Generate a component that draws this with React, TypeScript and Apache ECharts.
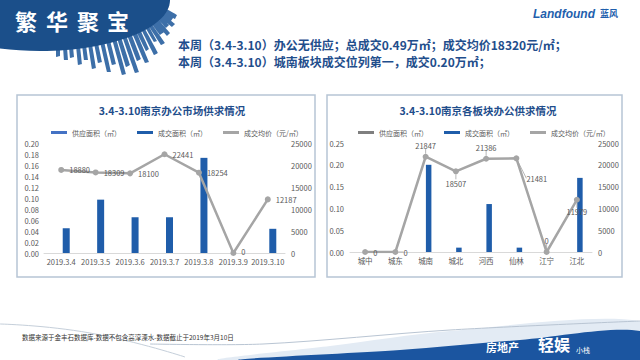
import React, { useEffect, useRef } from "react";
import * as echarts from "echarts";

// ---------- data ----------
const DATES = ["2019.3.4", "2019.3.5", "2019.3.6", "2019.3.7", "2019.3.8", "2019.3.9", "2019.3.10"];
const SUPPLY_L = [0, 0, 0, 0, 0, 0, 0];
const DEAL_L = [0.045, 0.097, 0.065, 0.065, 0.173, 0, 0.044];
const PRICE_L = [18880, 18309, 18100, 22441, 18254, 0, 12187];

const AREAS = ["城中", "城东", "城南", "城北", "河西", "仙林", "江宁", "江北"];
const SUPPLY_R = [0, 0, 0, 0, 0, 0, 0, 0];
const DEAL_R = [0, 0, 0.2, 0.01, 0.11, 0.01, 0, 0.17];
const PRICE_R = [0, 0, 21847, 18507, 21386, 21481, 0, 11979];

const TITLE_L = "3.4-3.10南京办公市场供求情况";
const TITLE_R = "3.4-3.10南京各板块办公供求情况";
const NAME_SUPPLY = "供应面积（㎡）";
const NAME_DEAL = "成交面积（㎡）";
const NAME_PRICE = "成交均价（元/㎡）";
const HEAD_1 = "本周（3.4-3.10）办公无供应；总成交0.49万㎡；成交均价18320元/㎡；";
const HEAD_2 = "本周（3.4-3.10）城南板块成交位列第一，成交0.20万㎡；";
const FOOT = "数据来源于金丰石数据库-数据不包含高淳溧水-数据截止于2019年3月10日";

// ---------- styles ----------
const BLUE = "#1F5DAA";
const GRAY = "#A5A5A5";
const TXT = "#595959";
const NAVY = "#1F4E8C";
const FONT = "'Noto Sans CJK SC', 'Noto Sans', sans-serif";

const LABEL_POS_L: any[] = [
  { position: "right" },
  { position: "right" },
  { position: "right" },
  { position: "right" },
  { position: "right" },
  { position: "right", offset: [0, -2] },
  { position: "right" },
];

const LABEL_POS_R: any[] = [
  { position: "right" },
  { position: "right" },
  { position: "top", offset: [7, 0] },
  { position: "bottom", offset: [7, 0] },
  { position: "top", offset: [4, 0] },
  { position: "right" },
  { position: "top" },
  { position: "bottom", offset: [-10, 0] },
];

// decorative skyline rays around the header blob (decoration, not data)
const RAYS = [
  [58.0, 47.5, 58.4, 56.5], [64.6, 47.1, 65.6, 60.1], [71.2, 46.5, 72.3, 57.5],
  [77.6, 45.8, 79.9, 64.7], [84.1, 44.9, 86.2, 59.8], [90.3, 44.0, 94.4, 68.7],
  [96.4, 42.9, 100.2, 62.5], [102.4, 41.7, 109.0, 72.0], [108.2, 40.4, 114.1, 64.7],
  [113.8, 38.9, 123.6, 74.6], [119.2, 37.3, 128.0, 66.0], [124.3, 35.7, 136.9, 72.6],
  [129.2, 33.9, 139.2, 60.1], [133.9, 32.0, 146.7, 62.5], [138.3, 30.1, 147.6, 50.0],
  [142.5, 28.0, 155.9, 53.8], [146.3, 25.9, 155.3, 41.5], [149.8, 23.8, 162.9, 43.9],
  [153.0, 21.5, 161.9, 33.6], [155.9, 19.3, 168.7, 34.6], [158.4, 17.0, 167.5, 26.3],
  [160.7, 14.6, 173.5, 25.8], [162.5, 12.3, 172.2, 19.4], [164.0, 10.0, 176.1, 17.1],
];

function skylineOutline(): number[][] {
  const pts: number[][] = [];
  for (let i = 0; i < RAYS.length; i++) {
    const r = RAYS[i];
    const dx = r[2] - r[0];
    const dy = r[3] - r[1];
    const len = Math.sqrt(dx * dx + dy * dy);
    const nx = dx / len;
    const ny = dy / len;
    const tx = ny * 2;
    const ty = -nx * 2;
    pts.push([Math.round(r[0] - tx), Math.round(r[1] - ty)]);
    pts.push([Math.round(r[2] - tx), Math.round(r[3] - ty)]);
    pts.push([Math.round(r[2] + tx), Math.round(r[3] + ty)]);
    pts.push([Math.round(r[0] + tx), Math.round(r[1] + ty)]);
  }
  pts.push([170, 0]);
  pts.push([40, 0]);
  return pts;
}

export default function App() {
  const ref = useRef<HTMLDivElement>(null);
  useEffect(() => {
    document.body.style.margin = "0";
    const chart = echarts.init(ref.current!, null, { renderer: "svg" });
    const axisLabel = { color: TXT, fontSize: 7.5, fontFamily: FONT };
    const priceLabel = { show: true, position: "right", color: TXT, fontSize: 7.5, fontFamily: FONT, distance: 5 };
    const legendItems = (supplyColor: string) => [
      { name: NAME_SUPPLY, icon: "rect", itemStyle: { color: supplyColor } },
      { name: NAME_DEAL, icon: "rect", itemStyle: { color: BLUE } },
      { name: NAME_PRICE, icon: "rect", itemStyle: { color: GRAY } },
    ];
    const legendBase = {
      top: 124,
      itemWidth: 16,
      itemHeight: 3,
      itemGap: 16,
      textStyle: { color: TXT, fontSize: 7, fontFamily: FONT },
      selectedMode: false,
    };
    const plain = (v: number) => String(v);

    const option: any = {
      animation: false,
      textStyle: { fontFamily: FONT },
      title: [
        { text: TITLE_L, left: 167, top: 100, textAlign: "center", textStyle: { color: NAVY, fontSize: 10.5, fontWeight: "bold", fontFamily: FONT } },
        { text: TITLE_R, left: 473, top: 100, textAlign: "center", textStyle: { color: NAVY, fontSize: 10.5, fontWeight: "bold", fontFamily: FONT } },
      ],
      legend: [
        { ...legendBase, left: 46, data: legendItems("#4472C4") },
        { ...legendBase, left: 353, data: legendItems("#7F7F7F") },
      ],
      grid: [
        { left: 44, right: 355, top: 143, bottom: 107 },
        { left: 350, right: 48, top: 143, bottom: 108 },
      ],
      xAxis: [
        {
          type: "category", gridIndex: 0, data: DATES,
          axisLine: { lineStyle: { color: "#D9D9D9" } }, axisTick: { show: false },
          axisLabel: { ...axisLabel, margin: 5, interval: 0 },
        },
        {
          type: "category", gridIndex: 1, data: AREAS,
          axisLine: { lineStyle: { color: "#D9D9D9" } }, axisTick: { show: false },
          axisLabel: { ...axisLabel, margin: 5, interval: 0 },
        },
      ],
      yAxis: [
        {
          type: "value", gridIndex: 0, min: 0, max: 0.2, interval: 0.02,
          splitLine: { show: false }, axisLine: { show: false }, axisTick: { show: false },
          axisLabel: { ...axisLabel, margin: 5, formatter: (v: number) => v.toFixed(2) },
        },
        {
          type: "value", gridIndex: 0, position: "right", min: 0, max: 25000, interval: 5000,
          splitLine: { show: false }, axisLine: { show: false }, axisTick: { show: false },
          axisLabel: { ...axisLabel, margin: 6, formatter: plain },
        },
        {
          type: "value", gridIndex: 1, min: 0, max: 0.25, interval: 0.05,
          splitLine: { show: false }, axisLine: { show: false }, axisTick: { show: false },
          axisLabel: { ...axisLabel, margin: 6, formatter: (v: number) => v.toFixed(2) },
        },
        {
          type: "value", gridIndex: 1, position: "right", min: 0, max: 25000, interval: 5000,
          splitLine: { show: false }, axisLine: { show: false }, axisTick: { show: false },
          axisLabel: { ...axisLabel, margin: 6, formatter: plain },
        },
      ],
      series: [
        { type: "bar", name: NAME_SUPPLY, xAxisIndex: 0, yAxisIndex: 0, data: SUPPLY_L, barWidth: 7, barGap: "43%", itemStyle: { color: "#4472C4" } },
        { type: "bar", name: NAME_DEAL, xAxisIndex: 0, yAxisIndex: 0, data: DEAL_L, barWidth: 7, barGap: "43%", itemStyle: { color: BLUE } },
        {
          type: "line", name: NAME_PRICE, xAxisIndex: 0, yAxisIndex: 1,
          data: PRICE_L.map((v, i) => ({ value: v, label: LABEL_POS_L[i] })),
          symbol: "circle", symbolSize: 6, itemStyle: { color: GRAY }, lineStyle: { color: GRAY, width: 2.5 },
          label: priceLabel, z: 3,
        },
        { type: "bar", name: NAME_SUPPLY, xAxisIndex: 1, yAxisIndex: 2, data: SUPPLY_R, barWidth: 5.5, barGap: "10%", itemStyle: { color: "#7F7F7F" } },
        { type: "bar", name: NAME_DEAL, xAxisIndex: 1, yAxisIndex: 2, data: DEAL_R, barWidth: 5.5, barGap: "10%", itemStyle: { color: BLUE } },
        {
          type: "line", name: NAME_PRICE, xAxisIndex: 1, yAxisIndex: 3,
          data: PRICE_R.map((v, i) => ({ value: v, label: LABEL_POS_R[i] })),
          symbol: "circle", symbolSize: 6, itemStyle: { color: GRAY }, lineStyle: { color: GRAY, width: 2.5 },
          label: priceLabel, z: 3,
          labelLine: { show: true, lineStyle: { color: GRAY, width: 0.8 } },
          labelLayout: (p: any) => (p.dataIndex === 5 ? { dx: 2, dy: 20 } : {}),
        },
      ],
      graphic: {
        elements: [
          { type: "rect", shape: { x: 17, y: 95, width: 298, height: 182 }, style: { fill: "#fff", stroke: "#B7C5D5", lineWidth: 1.5 }, z: -10 },
          { type: "rect", shape: { x: 327, y: 95, width: 295, height: 182 }, style: { fill: "#fff", stroke: "#B7C5D5", lineWidth: 1.5 }, z: -10 },
          { type: "polygon", shape: { points: skylineOutline(), smooth: 0.02 }, style: { fill: "#3D6FA8" } },
          { type: "ellipse", shape: { cx: 40, cy: 0, rx: 130, ry: 51 }, style: { fill: "#1B4F8A" } },
          { type: "text", x: 15, y: 9, style: { text: "繁", fill: "#fff", fontSize: 22, fontWeight: "bold", fontFamily: FONT } },
          { type: "text", x: 46, y: 9, style: { text: "华", fill: "#fff", fontSize: 22, fontWeight: "bold", fontFamily: FONT } },
          { type: "text", x: 77, y: 9, style: { text: "聚", fill: "#fff", fontSize: 22, fontWeight: "bold", fontFamily: FONT } },
          { type: "text", x: 107, y: 9, style: { text: "宝", fill: "#fff", fontSize: 22, fontWeight: "bold", fontFamily: FONT } },
          { type: "text", x: 178, y: 38, style: { text: HEAD_1, fill: NAVY, fontSize: 12, fontWeight: "bold", fontFamily: FONT } },
          { type: "text", x: 178, y: 55, style: { text: HEAD_2, fill: NAVY, fontSize: 12, fontWeight: "bold", fontFamily: FONT } },
          { type: "text", x: 533, y: 8, style: { text: "Landfound", fill: "#1F5FAD", fontSize: 12, fontWeight: "bold", fontStyle: "italic", fontFamily: "'Liberation Sans', sans-serif" } },
          { type: "text", x: 600, y: 9, style: { text: "蓝风", fill: "#1F5FAD", fontSize: 9, fontWeight: "bold", fontFamily: FONT } },
          { type: "polyline", shape: { points: [[0, 324], [90, 333], [185, 357]], smooth: 0.5 }, style: { stroke: "#C5CFDA", lineWidth: 1, fill: null } },
          { type: "polygon", shape: { points: [[220, 360], [330, 346], [450, 331], [640, 321], [640, 360]], smooth: 0.3 }, style: { fill: "#E3EBF4" } },
          { type: "polyline", shape: { points: [[150, 344], [263, 344], [450, 330], [640, 321]], smooth: 0.3 }, style: { stroke: "#B9C5D3", lineWidth: 1, fill: null } },
          { type: "polygon", shape: { points: [[240, 360], [400, 350], [520, 340], [640, 331], [640, 360]], smooth: 0.3 }, style: { fill: "#1B55A0" } },
          { type: "text", x: 22, y: 334, style: { text: FOOT, fill: "#333", fontSize: 6.5, fontFamily: FONT } },
          { type: "text", x: 486, y: 341, style: { text: "房地产", fill: "#fff", fontSize: 11, fontWeight: "bold", fontFamily: FONT } },
          { type: "text", x: 538, y: 336, style: { text: "轻娱", fill: "#fff", fontSize: 16, fontWeight: "bold", fontFamily: FONT } },
          { type: "text", x: 576, y: 346, style: { text: "小栈", fill: "#fff", fontSize: 7, fontFamily: FONT } },
        ],
      },
    };
    chart.setOption(option);
    return () => chart.dispose();
  }, []);
  return <div ref={ref} style={{ width: 640, height: 360 }} />;
}
